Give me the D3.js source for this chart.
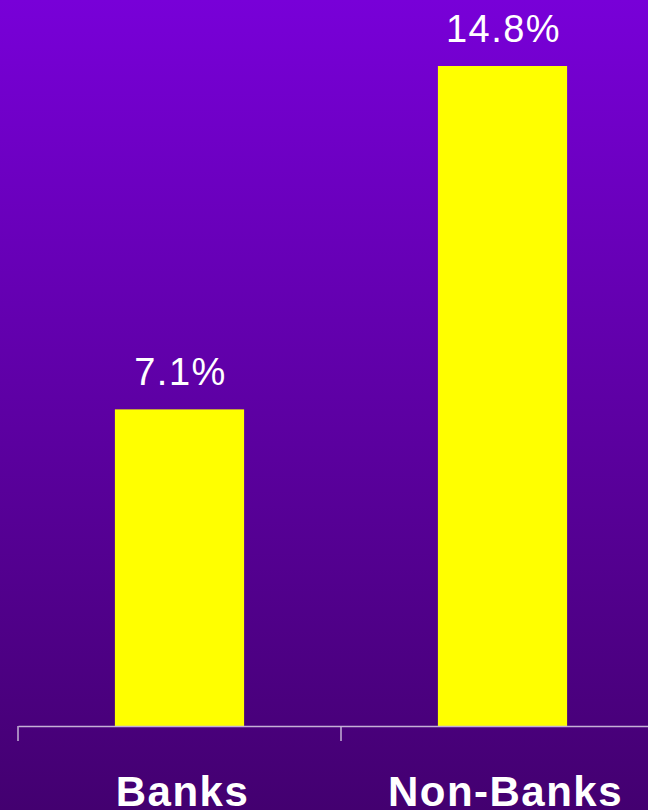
<!DOCTYPE html>
<html>
<head>
<meta charset="utf-8">
<script src="https://d3js.org/d3.v7.min.js"></script>
<style>
  html, body { margin: 0; padding: 0; background: #470077; }
  svg { display: block; }
</style>
</head>
<body>
<svg id="chart"></svg>
<script>
// chart data
var categories = ["Banks", "Non-Banks"];
var values = [7.1, 14.8];
var valueLabels = ["7.1%", "14.8%"];

var width = 648, height = 810;
var baseline = 726;

var svg = d3.select("#chart").attr("width", width).attr("height", height);

// background gradient
var grad = svg.append("defs").append("linearGradient")
    .attr("id", "bg").attr("x1", 0).attr("y1", 0).attr("x2", 0).attr("y2", 1);
grad.append("stop").attr("offset", "0%").attr("stop-color", "#7800d8");
grad.append("stop").attr("offset", "100%").attr("stop-color", "#430070");
svg.append("rect").attr("width", width).attr("height", height).attr("fill", "url(#bg)");

// scales - the plot runs off the right edge of the picture
var x = d3.scaleBand().domain(categories).range([18, 664]).paddingInner(0).paddingOuter(0);
var y = d3.scaleLinear().domain([0, 14.8]).range([baseline, 66]);
var barW = x.bandwidth() * 0.4;

// bars
svg.selectAll("rect.bar").data(values).enter().append("rect")
    .attr("class", "bar")
    .attr("x", function(d, i) { return x(categories[i]) + x.bandwidth() / 2 - barW / 2; })
    .attr("y", function(d) { return y(d); })
    .attr("width", barW)
    .attr("height", function(d) { return baseline - y(d); })
    .attr("fill", "#ffff00");

// value labels
svg.selectAll("text.val").data(values).enter().append("text")
    .attr("class", "val")
    .attr("x", function(d, i) { return x(categories[i]) + x.bandwidth() / 2 + 1; })
    .attr("y", function(d) { return y(d) - 24; })
    .attr("text-anchor", "middle")
    .attr("fill", "#ffffff")
    .style("font-family", "Liberation Sans, Arial, sans-serif")
    .style("font-size", "38px")
    .style("letter-spacing", "1.5px")
    .text(function(d, i) { return valueLabels[i]; });

// x axis with ticks between categories
var axis = svg.append("g").attr("transform", "translate(0," + baseline + ")")
    .call(d3.axisBottom(x).tickSize(0).tickFormat(""));
axis.select(".domain").attr("stroke", "#c4b0d6").attr("stroke-width", 1.5);
var edges = categories.map(function(c) { return x(c); });
axis.selectAll("line.sep").data(edges).enter().append("line")
    .attr("class", "sep")
    .attr("x1", function(d) { return d; }).attr("x2", function(d) { return d; })
    .attr("y1", 0).attr("y2", 15)
    .attr("stroke", "#c4b0d6").attr("stroke-width", 1.5);

// category labels
svg.selectAll("text.cat").data(categories).enter().append("text")
    .attr("class", "cat")
    .attr("x", function(d) { return x(d) + x.bandwidth() / 2 + 3; })
    .attr("y", 806)
    .attr("text-anchor", "middle")
    .attr("fill", "#ffffff")
    .style("font-family", "Liberation Sans, Arial, sans-serif")
    .style("font-weight", "bold")
    .style("font-size", "42px")
    .style("letter-spacing", "1.5px")
    .text(function(d) { return d; });
</script>
</body>
</html>
